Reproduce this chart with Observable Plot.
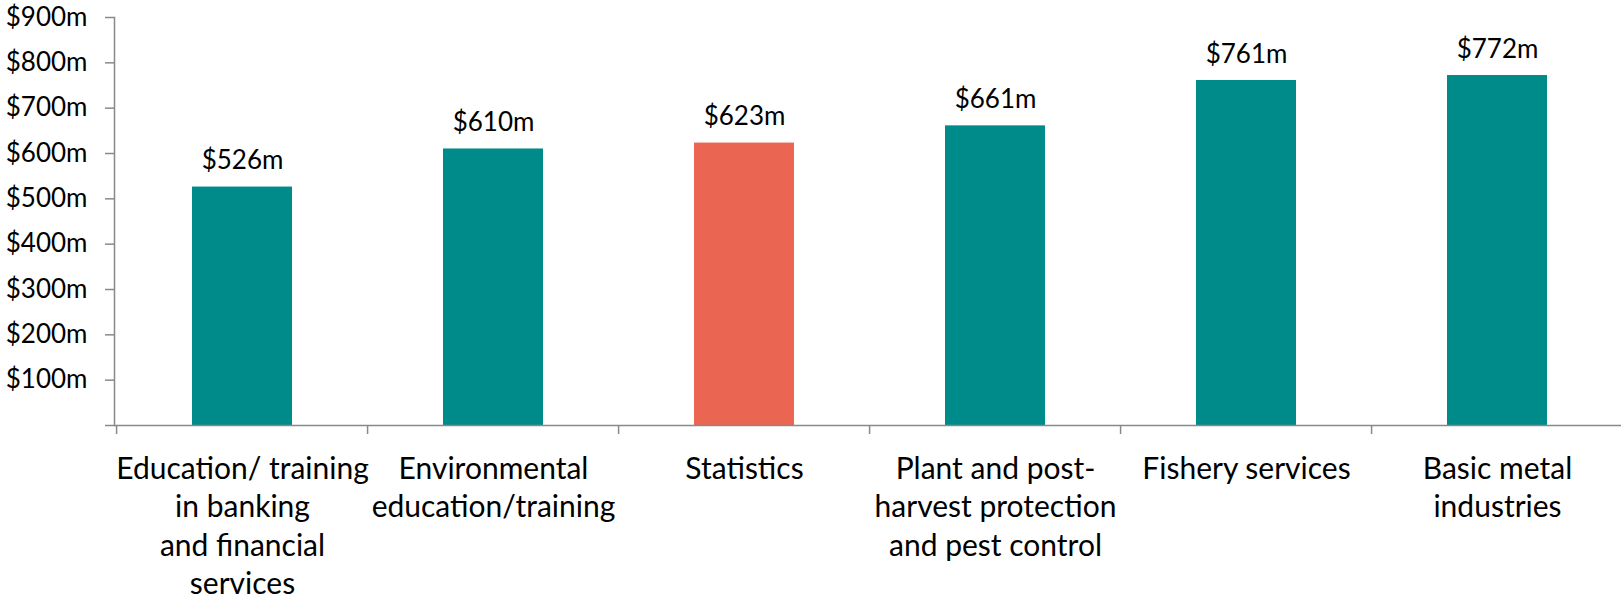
<!DOCTYPE html>
<html>
<head>
<meta charset="utf-8">
<script src="https://cdn.jsdelivr.net/npm/d3@7"></script>
<script src="https://cdn.jsdelivr.net/npm/@observablehq/plot@0.6"></script>
<style>
  html, body { margin: 0; padding: 0; background: #fff; }
  #chart { width: 1621px; height: 597px; }
</style>
</head>
<body>
<div id="chart"></div>
<script>
const categories = [
  "Education/ training in banking and financial services",
  "Environmental education/training",
  "Statistics",
  "Plant and post-harvest protection and pest control",
  "Fishery services",
  "Basic metal industries"
];
const values = [526, 610, 623, 661, 761, 772];
const tickLabels = [
  "Education/ training\nin banking\nand financial\nservices",
  "Environmental\neducation/training",
  "Statistics",
  "Plant and post-\nharvest protection\nand pest control",
  "Fishery services",
  "Basic metal\nindustries"
];
const yTicks = [0, 100, 200, 300, 400, 500, 600, 700, 800, 900];
const highlight = "Statistics";

const data = categories.map((c, i) => ({category: c, value: values[i], label: tickLabels[i]}));
const labelOf = new Map(data.map(d => [d.category, d.label]));

const W = 1621, H = 597;
const mL = 114, mR = -4, mT = 17, mB = 172;
const step = (W - mL - mR) / categories.length;
const gray = "#898989";

const chart = Plot.plot({
  width: W,
  height: H,
  marginLeft: mL,
  marginRight: mR,
  marginTop: mT,
  marginBottom: mB,
  style: {fontFamily: "Lato, 'Open Sans', sans-serif", background: "#fff", color: "#000"},
  x: {domain: categories, paddingInner: 0.6, paddingOuter: 0.3, label: null},
  y: {domain: [0, 900], label: null},
  color: {domain: [false, true], range: ["#008B8B", "#EB6553"]},
  marks: [
    Plot.barY(data, {x: "category", y: "value", fill: d => d.category === highlight}),
    Plot.text(data, {x: "category", y: "value", text: d => `$${d.value}m`, dy: -18, lineAnchor: "bottom", fontSize: 26, fill: "#000"}),
    Plot.axisY(yTicks, {anchor: "left", label: null, tickSize: 9, tickPadding: 18, fontSize: 26, stroke: gray, strokeWidth: 1.5, fill: "#000",
      tickFormat: d => d === 0 ? "" : `$${d}m`}),
    Plot.axisX({anchor: "bottom", label: null, tickSize: 9, tickFormat: () => "", dx: -step / 2, stroke: gray, strokeWidth: 1.5}),
    Plot.axisX({anchor: "bottom", label: null, tickSize: 0, tickPadding: 26, fontSize: 30, lineHeight: 1.28, lineAnchor: "top", fill: "#000",
      tickFormat: d => labelOf.get(d)}),
    Plot.ruleY([0], {stroke: gray, strokeWidth: 1.5}),
    Plot.frame({anchor: "left", stroke: gray, strokeWidth: 1.5})
  ]
});
document.getElementById("chart").appendChild(chart);
</script>
</body>
</html>
